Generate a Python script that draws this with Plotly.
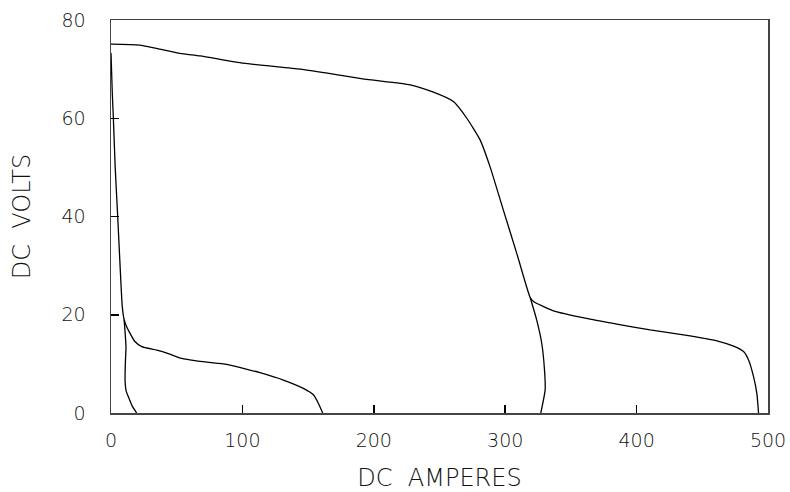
import plotly.graph_objects as go

# Upper curve: from 75 V at open circuit, knee near 250 A, tail to ~492 A
upper_amps = [0, 22, 52.5, 67.8, 100.7, 143.9, 169.2, 194.6, 227.6, 245.4, 260.6, 270.8,
              280.9, 288.5, 298.6, 308.8, 319, 321.5, 336.7, 364.6, 385, 410.3, 435.7,
              461.1, 473.8, 481.4, 485.2, 489, 491.5, 492.8]
upper_volts = [75.1, 74.9, 73.2, 72.7, 71.2, 70.0, 69.0, 67.9, 66.8, 65.3, 63.4, 60.0,
               55.6, 50.1, 41.3, 32.5, 23.5, 22.7, 20.8, 19.1, 18.1, 16.9, 15.9,
               14.7, 13.6, 12.5, 10.8, 7.4, 4.0, 0]

# Branch from the knee down to ~327 A
branch_amps = [319, 324, 327.8, 329.9, 330.4, 327.1]
branch_volts = [23.5, 18.9, 14.2, 8.8, 4.7, 0]

# Steep left curve from ~73 V, then plateau to ~161 A
left_amps = [0, 1.0, 1.8, 3.2, 5.1, 6.9, 8.6, 10.0, 12.0, 14.5, 18.0, 23.4, 34.8, 43.6,
             53.8, 65.2, 85.5, 100.7, 113.4, 131.2, 146.4, 154, 157.8, 161.1]
left_volts = [73.3, 65, 60, 50, 40, 30, 21.6, 19.0, 17.5, 16.2, 14.6, 13.5, 12.8, 12.1,
              11.1, 10.6, 10.0, 9.1, 8.2, 6.7, 5.0, 3.7, 2.0, 0]

# Near-vertical left branch down to ~20 A
low_amps = [10.0, 11.4, 10.9, 10.7, 11.5, 13.2, 16.0, 19.5]
low_volts = [19.0, 13.5, 10.0, 6.7, 4.5, 3.3, 1.5, 0]

x_ticks = [0, 100, 200, 300, 400, 500]
y_ticks = [0, 20, 40, 60, 80]

fig = go.Figure()
for xs, ys in [(upper_amps, upper_volts), (branch_amps, branch_volts),
               (left_amps, left_volts), (low_amps, low_volts)]:
    fig.add_trace(go.Scatter(x=xs, y=ys, mode="lines",
                             line=dict(color="black", width=1.3, shape="spline", smoothing=0.5),
                             showlegend=False, hoverinfo="skip", cliponaxis=False))

tick_font = dict(family="DejaVu Sans", size=19, color="#111", weight=300)
title_font = dict(family="DejaVu Sans", size=24, color="#111", weight=300)

fig.update_xaxes(range=[0, 500], tickvals=x_ticks, ticks="inside", ticklen=8, tickwidth=1.5,
                 tickcolor="black", showgrid=False, zeroline=False, showline=True,
                 linecolor="#444", linewidth=1.5, mirror=True, tickfont=tick_font,
                 ticklabelstandoff=10, automargin=False,
                 title=dict(text="DC\u00a0\u00a0AMPERES", font=title_font, standoff=22))
fig.update_yaxes(range=[0, 80], tickvals=y_ticks, ticks="inside", ticklen=8, tickwidth=1.5,
                 tickcolor="black", showgrid=False, zeroline=False, showline=True,
                 linecolor="#444", linewidth=1.5, mirror=True, tickfont=tick_font,
                 ticklabelstandoff=20, automargin=False,
                 title=dict(text="DC\u00a0\u00a0VOLTS", font=title_font, standoff=24))

fig.update_layout(width=790, height=492, margin=dict(l=111, r=22, t=20, b=79),
                  plot_bgcolor="white", paper_bgcolor="white")

fig.write_html("out.html", config={"displayModeBar": False, "staticPlot": True},
               post_script="document.body.style.margin='0';document.body.style.overflow='hidden';")
